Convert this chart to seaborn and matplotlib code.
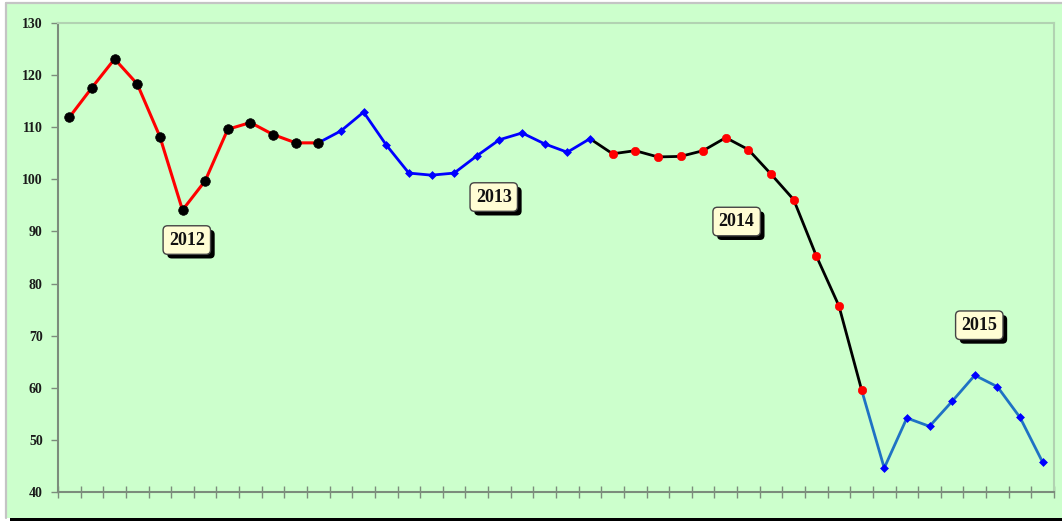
import matplotlib
matplotlib.use("Agg")
import numpy as np
import pandas as pd
import matplotlib.pyplot as plt
import matplotlib.patheffects as pe
from matplotlib.patches import Rectangle
import seaborn as sns

# Monthly index values, one list per year
values_2012 = [111.9, 117.6, 123.1, 118.3, 108.2, 94.1, 99.7, 109.6, 110.9, 108.6, 107.0, 107.0]
values_2013 = [109.3, 112.9, 106.6, 101.2, 100.8, 101.2, 104.5, 107.6, 108.9, 106.8, 105.2, 107.8]
values_2014 = [104.9, 105.5, 104.3, 104.4, 105.5, 108.0, 105.7, 101.0, 96.1, 85.3, 75.7, 59.6]
values_2015 = [44.6, 54.2, 52.6, 57.4, 62.4, 60.2, 54.3, 45.7]
years = ["2012", "2013", "2014", "2015"]
y_ticks = [40, 50, 60, 70, 80, 90, 100, 110, 120, 130]
# label anchor positions (month index, value) for the year boxes
label_pos = [(5.19, 88.35), (18.75, 96.6), (29.48, 91.9), (40.2, 72.0)]

series = [values_2012, values_2013, values_2014, values_2015]
rows = []
start = 0
for yr, vals in zip(years, series):
    for k, v in enumerate(vals):
        rows.append({"year": yr, "idx": start + k, "value": v})
    start += len(vals)
df = pd.DataFrame(rows)

sns.set_theme(style="white")
plt.rcParams["font.family"] = ["Liberation Serif", "DejaVu Serif"]

GREEN = "#ccffcc"
W, H = 1062, 523
fig = plt.figure(figsize=(W / 100, H / 100), dpi=100, facecolor="white")

# chart frame: green panel with a grey outline and a dark drop shadow at the bottom
fig.patches.append(Rectangle((6 / W, (H - 518) / H), 1.0, (518 - 3) / H,
                             transform=fig.transFigure, facecolor=GREEN,
                             edgecolor="none", zorder=-2))
fig.patches.append(Rectangle((10 / W, (H - 521) / H), 1.0, 3 / H,
                             transform=fig.transFigure, facecolor="black",
                             edgecolor="none", zorder=-2))
fig.lines.append(plt.Line2D([6 / W, 1.0], [(H - 3) / H, (H - 3) / H],
                            transform=fig.transFigure, color="#c4c4c4", lw=1.6,
                            zorder=-1))
fig.lines.append(plt.Line2D([6 / W, 6 / W], [(H - 518) / H, (H - 3) / H],
                            transform=fig.transFigure, color="#c4c4c4", lw=1.6,
                            zorder=-1))

ax = fig.add_axes([58 / W, 31 / H, (1054 - 58) / W, (492 - 23) / H])
ax.set_facecolor(GREEN)

line_styles = {
    "2012": dict(line="#ff0000", lw=2.2, marker="o", mcolor="black", s=48),
    "2013": dict(line="#0000ff", lw=2.0, marker="D", mcolor="#0000ff", s=16),
    "2014": dict(line="black", lw=2.0, marker="o", mcolor="#ff0000", s=36),
    "2015": dict(line="#1f72c4", lw=2.0, marker="D", mcolor="#0000ff", s=16),
}

prev = None
for yr in years:
    sub = df[df["year"] == yr]
    st = line_styles[yr]
    seg = sub[["idx", "value"]]
    if prev is not None:
        seg = pd.concat([prev, seg], ignore_index=True)
    sns.lineplot(data=seg, x="idx", y="value", color=st["line"], lw=st["lw"],
                 ax=ax, zorder=2, sort=False)
    prev = sub[["idx", "value"]].iloc[[-1]]

for yr in years:
    sub = df[df["year"] == yr]
    st = line_styles[yr]
    sns.scatterplot(data=sub, x="idx", y="value", marker=st["marker"],
                    color=st["mcolor"], s=st["s"], edgecolor=st["mcolor"],
                    linewidth=0.5, ax=ax, zorder=3)

n = len(df)
ax.set_xlim(-0.5, n - 0.5)
ax.set_ylim(40, 130)
ax.set_yticks(y_ticks)
ax.set_yticklabels([str(t) for t in y_ticks], fontsize=10, fontweight="bold",
                   color="#1a1a1a")
ax.set_xticks(np.arange(-0.5, n, 1.0))
ax.set_xticklabels([])
ax.set_xlabel("")
ax.set_ylabel("")
ax.tick_params(axis="y", left=True, direction="out", length=5, width=1,
               color="#7c8c7c", pad=6)
ax.tick_params(axis="x", bottom=True, direction="inout", length=8, width=1,
               color="#7c8c7c")
ax.grid(False)

for side in ["left", "bottom"]:
    ax.spines[side].set_color("#7c8c7c")
    ax.spines[side].set_linewidth(1.5)
for side in ["top", "right"]:
    ax.spines[side].set_color("#b2d2b2")
    ax.spines[side].set_linewidth(1.5)

# year labels in cream boxes with a black drop shadow
for yr, (lx, ly) in zip(years, label_pos):
    t = ax.text(lx, ly, yr, ha="center", va="center", fontsize=13,
                fontweight="bold", color="#111111", zorder=5,
                bbox=dict(boxstyle="round,pad=0.32,rounding_size=0.25", lw=1.0,
                          facecolor="#fffdd4", edgecolor="#444444"))
    t.get_bbox_patch().set_path_effects([
        pe.SimplePatchShadow(offset=(3, -3), shadow_rgbFace="black", alpha=1.0),
        pe.Normal(),
    ])

fig.savefig("out.png", dpi=100, facecolor="white")
